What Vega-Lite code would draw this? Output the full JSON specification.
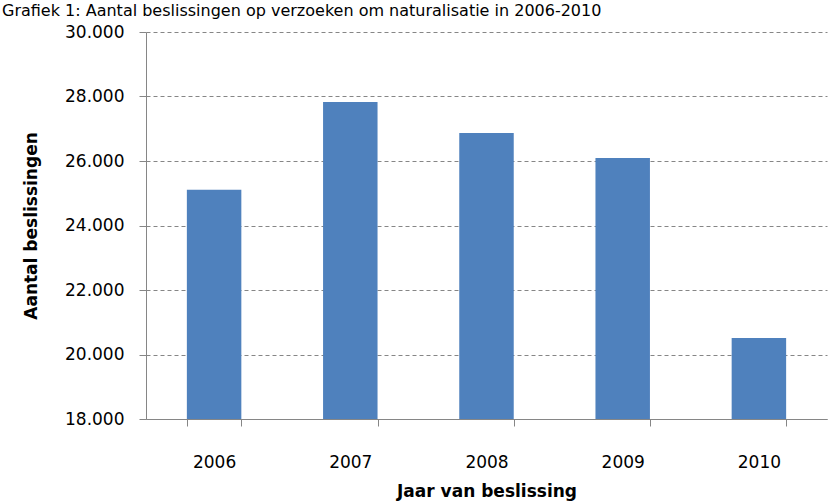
{
  "$schema": "https://vega.github.io/schema/vega-lite/v6.json",
  "width": 681,
  "height": 387,
  "autosize": {"type": "none"},
  "padding": {"left": 146, "top": 32, "right": 11, "bottom": 85},
  "background": "white",
  "title": {
    "text": "Grafiek 1: Aantal beslissingen op verzoeken om naturalisatie in 2006-2010",
    "anchor": "start",
    "frame": "group",
    "dx": -144,
    "offset": 4,
    "baseline": "top",
    "font": "DejaVu Sans",
    "fontSize": 16,
    "fontWeight": "normal",
    "color": "#000000"
  },
  "data": {
    "values": [
      {"jaar": "2006", "aantal": 25110},
      {"jaar": "2007", "aantal": 27830},
      {"jaar": "2008", "aantal": 26870},
      {"jaar": "2009", "aantal": 26090},
      {"jaar": "2010", "aantal": 20510}
    ]
  },
  "mark": {"type": "bar", "color": "#4F81BD", "clip": true},
  "encoding": {
    "x": {
      "field": "jaar",
      "type": "ordinal",
      "scale": {"paddingInner": 0.6, "paddingOuter": 0.3},
      "axis": {
        "title": "Jaar van beslissing",
        "titleFont": "DejaVu Sans",
        "titleFontSize": 17,
        "titleFontWeight": "bold",
        "titleColor": "#000000",
        "titlePadding": 13,
        "labelAngle": 0,
        "labelFont": "DejaVu Sans",
        "labelFontSize": 17,
        "labelColor": "#000000",
        "labelPadding": 28,
        "tickSize": 7,
        "tickColor": "#868686",
        "domainColor": "#868686",
        "tickBand": "extent",
        "grid": false
      }
    },
    "y": {
      "field": "aantal",
      "type": "quantitative",
      "scale": {"domain": [18000, 30000], "zero": false, "nice": false},
      "axis": {
        "title": "Aantal beslissingen",
        "titleFont": "DejaVu Sans",
        "titleFontSize": 17,
        "titleFontWeight": "bold",
        "titleColor": "#000000",
        "titlePadding": 24,
        "values": [18000, 20000, 22000, 24000, 26000, 28000, 30000],
        "labelExpr": "replace(format(datum.value, ','), ',', '.')",
        "labelFont": "DejaVu Sans",
        "labelFontSize": 17,
        "labelColor": "#000000",
        "labelPadding": 15,
        "tickSize": 7,
        "tickColor": "#868686",
        "domainColor": "#868686",
        "grid": true,
        "gridColor": "#868686",
        "gridDash": [4, 3],
        "gridWidth": 1
      }
    }
  },
  "config": {"view": {"stroke": null}}
}
